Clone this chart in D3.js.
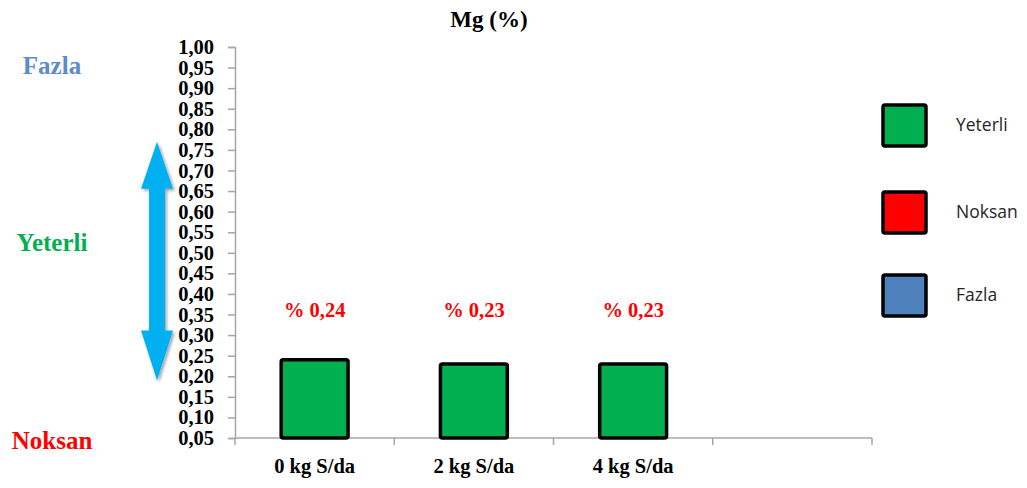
<!DOCTYPE html>
<html>
<head>
<meta charset="utf-8">
<script src="https://cdn.jsdelivr.net/npm/d3@7/dist/d3.min.js"></script>
<style>
  body { margin: 0; background: #fff; }
  svg { display: block; }
</style>
</head>
<body>
<svg id="chart" width="1027" height="488"></svg>
<script>
// chart data
var categories = ["0 kg S/da", "2 kg S/da", "4 kg S/da", ""];
var mgValues = [0.24, 0.23, 0.23];
var valueLabels = ["% 0,24", "% 0,23", "% 0,23"];
var yTicks = [0.05, 0.10, 0.15, 0.20, 0.25, 0.30, 0.35, 0.40, 0.45, 0.50,
              0.55, 0.60, 0.65, 0.70, 0.75, 0.80, 0.85, 0.90, 0.95, 1.00];
var legendNames = ["Yeterli", "Noksan", "Fazla"];
var legendColors = ["#00B050", "#FF0000", "#4F81BD"];
var sideNames = ["Fazla", "Yeterli", "Noksan"];
var sideValues = [0.97, 0.54, 0.06];
var sideColors = ["#5B8CCB", "#00B050", "#FF0000"];
var arrowRange = [0.77, 0.19];

var serif = "'Liberation Serif', 'Times New Roman', serif";
var svg = d3.select("#chart");

var plotLeft = 235, plotRight = 872, plotTop = 47, plotBottom = 438;

var x = d3.scaleBand().domain(categories.map(function(d, i){ return i; }))
          .range([plotLeft, plotRight]).paddingInner(0.58).paddingOuter(0.29);
var xb = d3.scaleBand().domain(categories.map(function(d, i){ return i; }))
          .range([plotLeft, plotRight]);
var y = d3.scaleLinear().domain([0.05, 1.0]).range([plotBottom, plotTop]);

// title
svg.append("text")
  .attr("x", 489).attr("y", 27)
  .attr("text-anchor", "middle")
  .style("font-family", serif).style("font-weight", "bold").style("font-size", "23px")
  .text("Mg (%)");

// y axis
var yAxis = d3.axisLeft(y).tickValues(yTicks).tickSize(7).tickPadding(14)
  .tickFormat(function(d){ return d3.format(".2f")(d).replace(".", ","); });
var gy = svg.append("g").attr("transform", "translate(" + plotLeft + ",0)").call(yAxis);
gy.select(".domain").attr("stroke", "#A6A6A6").attr("stroke-width", 1.5);
gy.selectAll(".tick line").attr("stroke", "#A6A6A6").attr("stroke-width", 1.5);
gy.selectAll(".tick text")
  .attr("fill", "#000")
  .style("font-family", serif).style("font-weight", "bold").style("font-size", "20.5px");

// x axis, ticks at category boundaries
var bounds = categories.map(function(d, i){ return xb(i); }).concat([plotRight]);
svg.append("line")
  .attr("x1", plotLeft).attr("x2", plotRight).attr("y1", plotBottom).attr("y2", plotBottom)
  .attr("stroke", "#A6A6A6").attr("stroke-width", 1.5);
svg.selectAll(".xtick").data(bounds).enter().append("line")
  .attr("x1", function(d){ return d; }).attr("x2", function(d){ return d; })
  .attr("y1", plotBottom).attr("y2", plotBottom + 7)
  .attr("stroke", "#A6A6A6").attr("stroke-width", 1.5);
svg.selectAll(".xlab").data(categories).enter().append("text")
  .attr("x", function(d, i){ return xb(i) + xb.bandwidth() / 2; })
  .attr("y", 473)
  .attr("text-anchor", "middle")
  .style("font-family", serif).style("font-weight", "bold").style("font-size", "20.5px")
  .text(function(d){ return d; });

// bars
svg.selectAll(".bar").data(mgValues).enter().append("rect")
  .attr("x", function(d, i){ return x(i); })
  .attr("y", function(d){ return y(d); })
  .attr("width", x.bandwidth())
  .attr("height", function(d){ return y(0.05) - y(d); })
  .attr("rx", 2)
  .attr("fill", "#00B050").attr("stroke", "#000").attr("stroke-width", 3.5);

// value labels
svg.selectAll(".val").data(valueLabels).enter().append("text")
  .attr("x", function(d, i){ return x(i) + x.bandwidth() / 2; })
  .attr("y", 317)
  .attr("text-anchor", "middle")
  .attr("fill", "#FF0000")
  .style("font-family", serif).style("font-weight", "bold").style("font-size", "20.5px")
  .text(function(d){ return d; });

// side labels
svg.selectAll(".side").data(sideNames).enter().append("text")
  .attr("x", 52)
  .attr("y", function(d, i){ return y(sideValues[i]) + 15; })
  .attr("text-anchor", "middle")
  .attr("fill", function(d, i){ return sideColors[i]; })
  .style("font-family", serif).style("font-weight", "bold").style("font-size", "25px")
  .text(function(d){ return d; });

// double arrow
var ax = 157, yt = y(arrowRange[0]), yb = y(arrowRange[1]);
var hw = 16, sw = 8, hh = 47;
var arrow = [[ax, yt], [ax + hw, yt + hh], [ax + sw, yt + hh], [ax + sw, yb - 50],
             [ax + hw, yb - 50], [ax, yb], [ax - hw, yb - 50], [ax - sw, yb - 50],
             [ax - sw, yt + hh], [ax - hw, yt + hh]];
var defs = svg.append("defs");
var f = defs.append("filter").attr("id", "sh").attr("x", "-50%").attr("y", "-20%")
  .attr("width", "200%").attr("height", "140%");
f.append("feDropShadow").attr("dx", 2).attr("dy", 2).attr("stdDeviation", 1.5)
  .attr("flood-color", "#000").attr("flood-opacity", 0.35);
svg.append("path")
  .attr("d", d3.line()(arrow) + "Z")
  .attr("fill", "#00B0F0")
  .attr("filter", "url(#sh)");

// legend
var lg = svg.selectAll(".leg").data(legendNames).enter().append("g")
  .attr("transform", function(d, i){ return "translate(883," + [105, 192, 275][i] + ")"; });
lg.append("rect")
  .attr("width", 43).attr("height", 41).attr("rx", 2)
  .attr("fill", function(d, i){ return legendColors[i]; })
  .attr("stroke", "#000").attr("stroke-width", 3.5);
lg.append("text")
  .attr("x", 73).attr("y", 21)
  .attr("dominant-baseline", "middle")
  .attr("fill", "#262626")
  .style("font-family", "'Open Sans', sans-serif").style("font-size", "17.5px")
  .text(function(d){ return d; });
</script>
</body>
</html>
